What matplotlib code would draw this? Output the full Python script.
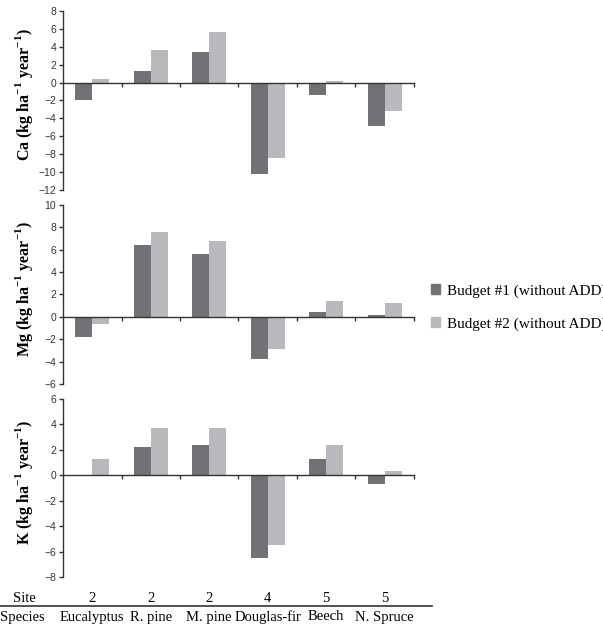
import matplotlib
matplotlib.use("Agg")
import matplotlib.pyplot as plt
from matplotlib.patches import Patch
from matplotlib.transforms import blended_transform_factory

species = ["Eucalyptus", "R. pine", "M. pine", "Douglas-fir", "Beech", "N. Spruce"]
sites = ["2", "2", "2", "4", "5", "5"]

ca_b1 = [-1.9, 1.3, 3.4, -10.2, -1.4, -4.9]
ca_b2 = [0.4, 3.6, 5.7, -8.4, 0.2, -3.2]
mg_b1 = [-1.8, 6.4, 5.6, -3.8, 0.4, 0.2]
mg_b2 = [-0.6, 7.6, 6.8, -2.9, 1.4, 1.2]
k_b1 = [0.05, 2.2, 2.4, -6.5, 1.3, -0.7]
k_b2 = [1.3, 3.7, 3.7, -5.5, 2.4, 0.3]

dark = "#727276"
light = "#b9b9bd"
serif = "Liberation Serif"
sans = "Liberation Sans"

fig = plt.figure(figsize=(6.03, 6.27), dpi=100)

panels = [
    ("Ca", ca_b1, ca_b2, (-12, 8), range(-12, 9, 2), [0.1045, 0.697, 0.582, 0.2855]),
    ("Mg", mg_b1, mg_b2, (-6, 10), range(-6, 11, 2), [0.1045, 0.3876, 0.582, 0.2855]),
    ("K", k_b1, k_b2, (-8, 6), range(-8, 7, 2), [0.1045, 0.0797, 0.582, 0.284]),
]

x = list(range(len(species)))
w = 0.29
axes = []
for name, b1, b2, lim, ticks, pos in panels:
    ax = fig.add_axes(pos)
    ax.bar([i - 0.145 for i in x], b1, width=w, color=dark)
    ax.bar([i + 0.145 for i in x], b2, width=w, color=light)
    ax.set_xlim(-0.5, 5.5)
    ax.set_ylim(*lim)
    ax.set_yticks(list(ticks))
    ax.set_xticks([i + 0.5 for i in x])
    ax.set_xticklabels([])
    ax.spines["top"].set_visible(False)
    ax.spines["right"].set_visible(False)
    ax.spines["bottom"].set_position(("data", 0))
    ax.spines["bottom"].set_zorder(3)
    for s in ["left", "bottom"]:
        ax.spines[s].set_color("#333333")
        ax.spines[s].set_linewidth(1.0)
    ax.tick_params(axis="y", length=3, width=1, color="#333333", labelsize=7.5,
                   labelcolor="#333333", pad=2)
    ax.tick_params(axis="x", length=3, width=1, color="#333333")
    for lab in ax.get_yticklabels():
        lab.set_family(sans)
    ax.set_ylabel(name + r" (kg ha$^{\mathregular{-1}}$ year$^{\mathregular{-1}}$)",
                  fontfamily=serif, fontweight="bold", fontsize=11.5)
    ax.yaxis.set_label_coords(-0.08, 0.53)
    axes.append(ax)

# site / species rows
tr = blended_transform_factory(axes[2].transData, fig.transFigure)
fs = 10.5
fig.text(13 / 603, 1 - 598 / 627, "Site", fontfamily=serif, fontsize=fs, va="center")
fig.text(0, 1 - 617 / 627, "Species", fontfamily=serif, fontsize=fs, va="center")
for i in x:
    fig.text(i, 1 - 598 / 627, sites[i], transform=tr, ha="center", va="center",
             fontfamily=serif, fontsize=fs)
    fig.text(i, 1 - 617 / 627, species[i], transform=tr, ha="center", va="center",
             fontfamily=serif, fontsize=fs)
fig.add_artist(plt.Line2D([0, 432 / 603], [1 - 606 / 627, 1 - 606 / 627],
                          color="#333333", linewidth=1.2, transform=fig.transFigure))

handles = [Patch(color=dark, label="Budget #1 (without ADD)"),
           Patch(color=light, label="Budget #2 (without ADD)")]
fig.legend(handles=handles, loc="upper left", bbox_to_anchor=(417 / 603, 1 - 270 / 627),
           frameon=False, handlelength=0.6, handleheight=0.7, handletextpad=0.45,
           labelspacing=1.25, prop={"family": serif, "size": 11})

fig.savefig("out.png", dpi=100)
